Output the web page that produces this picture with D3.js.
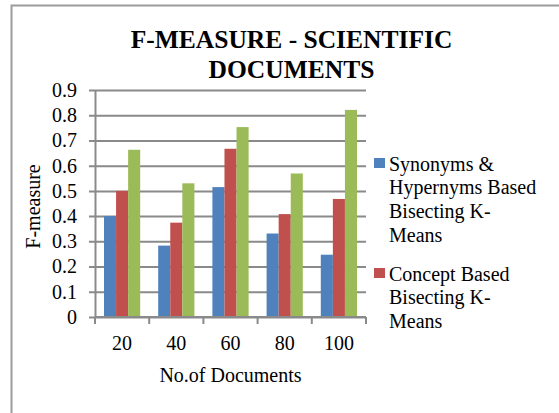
<!DOCTYPE html>
<html>
<head>
<meta charset="utf-8">
<script src="https://cdn.jsdelivr.net/npm/d3@7"></script>
<style>
  body { margin: 0; background: #fff; }
  #chart { width: 559px; height: 413px; }
  text { font-family: "Liberation Serif", "Times New Roman", serif; fill: #000; }
</style>
</head>
<body>
<div id="chart"></div>
<script>
// data
var categories = ["20", "40", "60", "80", "100"];
var seriesNames = ["Synonyms & Hypernyms Based Bisecting K-Means", "Concept Based Bisecting K-Means", "Series 3"];
var synonymsValues = [0.40, 0.283, 0.515, 0.331, 0.247];
var conceptValues = [0.50, 0.374, 0.667, 0.408, 0.468];
var thirdValues = [0.663, 0.530, 0.753, 0.569, 0.821];
var yTicks = [0, 0.1, 0.2, 0.3, 0.4, 0.5, 0.6, 0.7, 0.8, 0.9];
// legend text as wrapped in the source (third entry is cut off there)
var legendLines = [
    ["Synonyms &", "Hypernyms Based", "Bisecting K-", "Means"],
    ["Concept Based", "Bisecting K-", "Means"]
];
var colors = ["#4F81BD", "#C0504D", "#9BBB59"];

function drawChart() {
    var divElement = document.getElementById("chart");
    var width = 559, height = 413;
    var plot = { left: 95, right: 366, top: 90, bottom: 317 };
    var axisColor = "#8a8a8a";

    var svg = d3.select(divElement)
        .append("svg")
        .attr("width", width)
        .attr("height", height);

    // outer frame (runs off the right and bottom edges)
    svg.append("rect")
        .attr("x", 11.5).attr("y", 5.5)
        .attr("width", 600).attr("height", 500)
        .attr("fill", "none")
        .attr("stroke", "#9c9c9c")
        .attr("stroke-width", 2);

    var series = [synonymsValues, conceptValues, thirdValues];
    var rows = categories.map(function(c, i) {
        return { cat: c, values: series.map(function(s, j) { return { key: j, value: s[i] }; }) };
    });

    var x0 = d3.scaleBand().domain(categories).range([plot.left, plot.right])
        .paddingInner(0.332).paddingOuter(0.166);
    var x1 = d3.scaleBand().domain([0, 1, 2]).range([0, x0.bandwidth()]);
    var y = d3.scaleLinear().domain([0, 0.9]).range([plot.bottom, plot.top]);

    // y axis with gridlines
    var yAxis = svg.append("g")
        .attr("transform", "translate(" + plot.left + ",0)")
        .call(d3.axisLeft(y).tickValues(yTicks)
            .tickFormat(function(d) { return d === 0 ? "0" : d3.format(".1f")(d); })
            .tickSizeInner(-(plot.right - plot.left)).tickSizeOuter(0).tickPadding(18));
    yAxis.select(".domain").attr("stroke", axisColor).attr("stroke-width", 2);
    yAxis.selectAll(".tick line").attr("x1", -6).attr("stroke", axisColor).attr("stroke-width", 2);
    yAxis.selectAll(".tick text")
        .attr("font-family", "Liberation Serif, Times New Roman, serif")
        .attr("font-size", 20).attr("fill", "#000");

    // bars
    var groups = svg.append("g").selectAll("g")
        .data(rows)
        .join("g")
        .attr("transform", function(d) { return "translate(" + x0(d.cat) + ",0)"; });
    groups.selectAll("rect")
        .data(function(d) { return d.values; })
        .join("rect")
        .attr("x", function(d) { return x1(d.key); })
        .attr("width", x1.bandwidth())
        .attr("y", function(d) { return y(d.value); })
        .attr("height", function(d) { return y(0) - y(d.value); })
        .attr("fill", function(d) { return colors[d.key]; });

    // x axis: labels at centres, ticks at category boundaries
    var xAxis = svg.append("g")
        .attr("transform", "translate(0," + plot.bottom + ")")
        .call(d3.axisBottom(x0).tickSize(0).tickPadding(19));
    xAxis.select(".domain").remove();
    xAxis.selectAll(".tick text")
        .attr("font-family", "Liberation Serif, Times New Roman, serif")
        .attr("font-size", 20).attr("fill", "#000");
    svg.append("line")
        .attr("x1", plot.left).attr("x2", plot.right)
        .attr("y1", y(0)).attr("y2", y(0))
        .attr("stroke", axisColor).attr("stroke-width", 2);
    svg.append("g").selectAll("line")
        .data(d3.range(categories.length + 1))
        .join("line")
        .attr("x1", function(i) { return x0.range()[0] + i * x0.step(); })
        .attr("x2", function(i) { return x0.range()[0] + i * x0.step(); })
        .attr("y1", y(0)).attr("y2", y(0) + 7)
        .attr("stroke", axisColor).attr("stroke-width", 2);

    // titles
    var title = svg.append("text")
        .attr("text-anchor", "middle")
        .attr("font-size", 25.5)
        .attr("font-weight", "bold");
    title.append("tspan").attr("x", 291.5).attr("y", 48).text("F-MEASURE - SCIENTIFIC");
    title.append("tspan").attr("x", 291.5).attr("y", 78).text("DOCUMENTS");

    svg.append("text")
        .attr("x", (plot.left + plot.right) / 2)
        .attr("y", 382)
        .attr("text-anchor", "middle")
        .attr("font-size", 20)
        .text("No.of Documents");

    svg.append("text")
        .attr("transform", "translate(40," + ((plot.top + plot.bottom) / 2 + 3) + ") rotate(-90)")
        .attr("text-anchor", "middle")
        .attr("font-size", 20)
        .text("F-measure");

    // legend
    var lineH = 23.7, gap = 15.2;
    var top = 158;
    legendLines.forEach(function(lines, i) {
        var g = svg.append("g");
        g.append("rect")
            .attr("x", 374).attr("y", top)
            .attr("width", 11).attr("height", 10)
            .attr("fill", colors[i]);
        var t = g.append("text").attr("font-size", 20);
        lines.forEach(function(line, k) {
            t.append("tspan").attr("x", 389).attr("y", top + 12.7 + k * lineH).text(line);
        });
        top += lines.length * lineH + gap;
    });
}

drawChart();
</script>
</body>
</html>
